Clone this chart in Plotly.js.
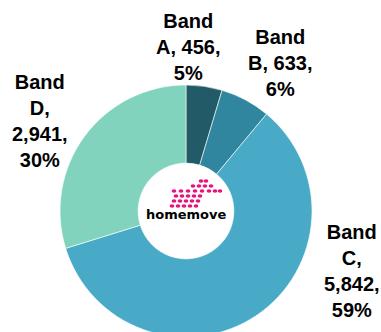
<!DOCTYPE html>
<html>
<head>
<meta charset="utf-8">
<script src="https://cdn.plot.ly/plotly-3.0.1.min.js"></script>
<style>
html,body{margin:0;padding:0;background:#fff;overflow:hidden;width:381px;height:332px;}
#chart{width:381px;height:345px;}
</style>
</head>
<body>
<div id="chart"></div>
<script>
// Data
var bands = ["Band A", "Band B", "Band C", "Band D"];
var counts = [456, 633, 5842, 2941];
var colors = ["#225a68", "#2f869e", "#48aac6", "#82d3be"];

var W = 381, H = 345;
function px(x){ return x / W; }
function py(y){ return 1 - y / H; }

var total = counts.reduce(function(a,b){return a+b;}, 0);

// Label block centres (pixels) for each band
var labelPos = [[188, 47], [280, 63], [352, 271], [40, 121]];

var annotations = bands.map(function(b, i){
  var parts = b.split(" ");
  var pct = Math.round(counts[i] / total * 100);
  var txt = parts[0] + "<br>" + parts[1] + ",<br>" + counts[i].toLocaleString("en-US") + ",<br>" + pct + "%";
  if (i === 0 || i === 1) {
    txt = parts[0] + "<br>" + parts[1] + ", " + counts[i].toLocaleString("en-US") + ",<br>" + pct + "%";
  }
  return {
    text: txt, showarrow: false, xref: "paper", yref: "paper",
    x: px(labelPos[i][0]), y: py(labelPos[i][1]),
    xanchor: "center", yanchor: "middle", align: "center",
    font: {family: "Liberation Sans, Arial, sans-serif", size: 20, color: "#000", weight: 700}
  };
});

// Logo text
annotations.push({
  text: "homemove", showarrow: false, xref: "paper", yref: "paper",
  x: px(186), y: py(214), xanchor: "center", yanchor: "middle",
  font: {family: "DejaVu Sans, sans-serif", size: 13, color: "#000", weight: 700}
});

// Logo dots (decorative)
var dotRows = [
  [181, [201, 206]],
  [186, [193, 199, 205, 211]],
  [191, [174, 181, 188, 195, 202, 209, 215, 220]],
  [196, [176, 182, 188, 194, 200]],
  [201, [174, 180, 186, 192, 198]],
  [206, [172, 178, 184, 190, 196]]
];
var shapes = [];
dotRows.forEach(function(r){
  r[1].forEach(function(x){
    shapes.push({type: "circle", xref: "paper", yref: "paper",
      x0: px(x - 2.4), x1: px(x + 2.4), y0: py(r[0] + 1.8), y1: py(r[0] - 1.8),
      fillcolor: "#e5157f", line: {width: 0}});
  });
});

var trace = {
  type: "pie",
  labels: bands,
  values: counts,
  sort: false,
  direction: "clockwise",
  rotation: 0,
  hole: 0.38,
  textinfo: "none",
  hoverinfo: "label+value+percent",
  marker: {colors: colors, line: {color: "#ffffff", width: 0.6}},
  domain: {x: [px(60), px(312)], y: [(H - 211 - 126) / H, (H - 211 + 126) / H]},
  showlegend: false
};

var layout = {
  width: W, height: H,
  margin: {l: 0, r: 0, t: 0, b: 0},
  paper_bgcolor: "#ffffff",
  showlegend: false,
  annotations: annotations,
  shapes: shapes
};

Plotly.newPlot("chart", [trace], layout, {displayModeBar: false, staticPlot: true});
</script>
</body>
</html>
